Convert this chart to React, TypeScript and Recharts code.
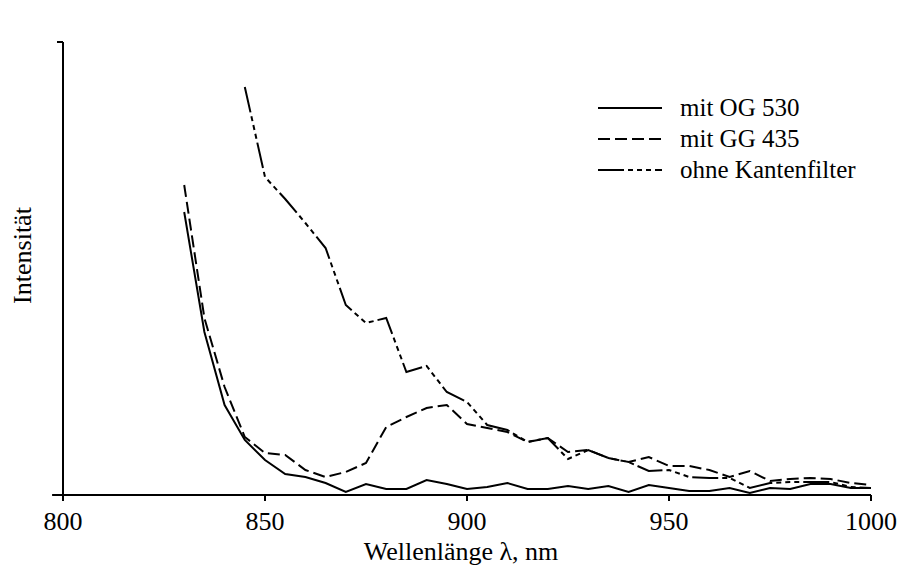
import React from 'react';
import { LineChart, Line, XAxis, YAxis, Legend, ReferenceLine } from 'recharts';

const wavelength = [830, 835, 840, 845, 850, 855, 860, 865, 870, 875, 880, 885, 890, 895, 900, 905, 910, 915, 920, 925, 930, 935, 940, 945, 950, 955, 960, 965, 970, 975, 980, 985, 990, 995, 1000];
const og530 = [283, 163, 90, 55, 35, 21, 18, 12, 3, 11, 6, 6, 15, 11, 6, 8, 12, 6, 6, 9, 6, 9, 3, 10, 7, 4, 4, 7, 2, 7, 6, 11, 11, 7, 7];
const gg435 = [310, 177, 108, 58, 42, 40, 25, 18, 23, 32, 68, 78, 87, 90, 71, 67, 63, 53, 57, 43, 45, 37, 33, 38, 29, 29, 25, 18, 24, 14, 16, 17, 16, 12, 10];
const ohne = [null, null, null, 408, 318, 296, 272, 247, 190, 172, 177, 123, 129, 103, 93, 70, 65, 53, 57, 36, 45, 37, 33, 24, 25, 18, 17, 17, 7, 12, 13, 13, 13, 8, 7];
const xTicks = [800, 850, 900, 950, 1000];
const seriesNames = ['mit OG 530', 'mit GG 435', 'ohne Kantenfilter'];

const data = wavelength.map((wl, i) => ({ wl, og530: og530[i], gg435: gg435[i], ohne: ohne[i] }));

const FONT = '"Liberation Serif", "Times New Roman", serif';
const DASH_GG = '12 5';
const DASH_OHNE = '26 4 5 4 5 4 5 4';
const dashes = ['', DASH_GG, DASH_OHNE];

const renderLegend = () => (
  <div style={{ fontFamily: FONT, fontSize: 25, color: '#000' }}>
    {seriesNames.map((n, i) => (
      <div key={n} style={{ display: 'flex', alignItems: 'center', height: 31 }}>
        <svg width={64} height={4} style={{ display: 'block' }}>
          <line x1={0} y1={2} x2={64} y2={2} stroke="#000" strokeWidth={2} strokeDasharray={dashes[i] || undefined} />
        </svg>
        <span style={{ marginLeft: 18, lineHeight: '31px', whiteSpace: 'nowrap' }}>{n}</span>
      </div>
    ))}
  </div>
);

const YLabel = (props: any) => {
  const vb = props.viewBox || { x: 0, y: 0, width: 63, height: 453 };
  const cx = vb.x + 31;
  const cy = vb.y + vb.height / 2 - 13;
  return (
    <text x={cx} y={cy} transform={`rotate(-90, ${cx}, ${cy})`} textAnchor="middle" fontFamily={FONT} fontSize={26} fill="#000">
      Intensität
    </text>
  );
};

const EmptyTick = () => <g />;

export default function App() {
  return (
    <div style={{ position: 'absolute', left: 0, top: 0, background: '#fff', fontFamily: FONT }}>
      <LineChart width={901} height={566} data={data} margin={{ top: 42, right: 30, left: 0, bottom: 0 }}>
        <XAxis
          dataKey="wl"
          type="number"
          domain={[800, 1000]}
          ticks={xTicks}
          height={71}
          tickSize={6}
          tickMargin={11}
          axisLine={{ stroke: '#000', strokeWidth: 2 }}
          tickLine={{ stroke: '#000', strokeWidth: 2 }}
          tick={{ fill: '#000', fontFamily: FONT, fontSize: 26 }}
          label={{ value: 'Wellenlänge λ, nm', position: 'insideBottom', offset: 6, dx: -6, fill: '#000', fontFamily: FONT, fontSize: 26 }}
        />
        <YAxis
          type="number"
          domain={[0, 453]}
          ticks={[453]}
          width={63}
          tick={<EmptyTick />}
          tickSize={6}
          axisLine={{ stroke: '#000', strokeWidth: 2 }}
          tickLine={{ stroke: '#000', strokeWidth: 2 }}
          label={<YLabel />}
        />
        <ReferenceLine segment={[{ x: 797.3, y: 0 }, { x: 800, y: 0 }]} stroke="#000" strokeWidth={2} ifOverflow="visible" />
        <Legend layout="vertical" align="center" verticalAlign="middle" content={renderLegend} wrapperStyle={{ position: 'absolute', left: 598, top: 92, width: 280 }} />
        <Line dataKey="og530" name={seriesNames[0]} stroke="#000" strokeWidth={2} dot={false} isAnimationActive={false} type="linear" />
        <Line dataKey="gg435" name={seriesNames[1]} stroke="#000" strokeWidth={2} strokeDasharray={DASH_GG} dot={false} isAnimationActive={false} type="linear" />
        <Line dataKey="ohne" name={seriesNames[2]} stroke="#000" strokeWidth={2} strokeDasharray={DASH_OHNE} dot={false} isAnimationActive={false} type="linear" />
      </LineChart>
    </div>
  );
}
